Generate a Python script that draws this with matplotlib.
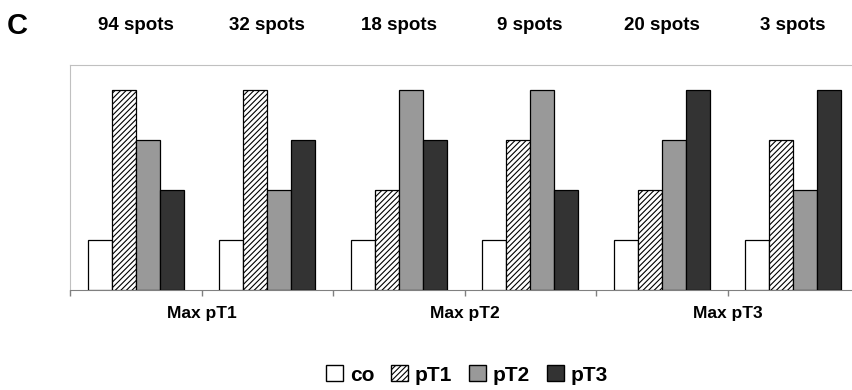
import matplotlib
matplotlib.use("Agg")
import matplotlib.pyplot as plt
import numpy as np
from matplotlib.patches import Patch

plt.rcParams['font.family'] = ['Liberation Sans', 'DejaVu Sans']
plt.rcParams['hatch.linewidth'] = 0.8

spots = ["94 spots", "32 spots", "18 spots", "9 spots", "20 spots", "3 spots"]
series = ["co", "pT1", "pT2", "pT3"]
co = [1, 1, 1, 1, 1, 1]
pT1 = [4, 4, 2, 3, 2, 3]
pT2 = [3, 2, 4, 4, 3, 2]
pT3 = [2, 3, 3, 2, 4, 4]
group_labels = ["Max pT1", "Max pT2", "Max pT3"]

values = [co, pT1, pT2, pT3]
faces = ["white", "white", "#999999", "#333333"]
hatches = [None, "//////", None, None]

W, H = 853, 390
fig = plt.figure(figsize=(W/100, H/100), dpi=100)
ax = fig.add_axes([70/W, 1-290/H, (859-70)/W, (290-65)/H])

n = len(spots)
x = np.arange(n)
bw = 0.183
for i, (vals, fc, h) in enumerate(zip(values, faces, hatches)):
    ax.bar(x + (i - 1.5) * bw, vals, width=bw, color=fc, edgecolor="black",
           hatch=h, linewidth=0.9, zorder=3)

ax.set_xlim(-0.5, n - 0.5)
ax.set_ylim(0, 4.5)
ax.set_yticks([])
ax.set_xticks(np.arange(n + 1) - 0.5)
ax.set_xticklabels([])
ax.tick_params(axis='x', direction='out', length=4, color='#808080', width=1)
for s in ['top', 'left', 'right']:
    ax.spines[s].set_color('#c0c0c0')
ax.spines['bottom'].set_color('#808080')

for xi, lab in zip([0.5, 2.5, 4.5], group_labels):
    ax.text(xi, -0.47, lab, ha='center', va='center', fontsize=12.5,
            fontweight='bold', transform=ax.transData)

for xi, s in zip(x, spots):
    fig.text((70 + (xi + 0.5) * (859 - 70) / n) / W, 1 - 25/H, s,
             ha='center', va='center', fontsize=13.5, fontweight='bold')

fig.text(7/W, 1 - 26/H, "C", ha='left', va='center', fontsize=21, fontweight='bold')

handles = [Patch(facecolor=fc, edgecolor='black', hatch=h, label=lab)
           for fc, h, lab in zip(faces, hatches, series)]
fig.legend(handles=handles, loc='center', bbox_to_anchor=(467/W, 1 - 375/H),
           ncol=4, frameon=False, handlelength=0.8, handleheight=0.8,
           handletextpad=0.35, columnspacing=0.8,
           prop={'weight': 'bold', 'size': 15})

fig.savefig("out.png", dpi=100)
